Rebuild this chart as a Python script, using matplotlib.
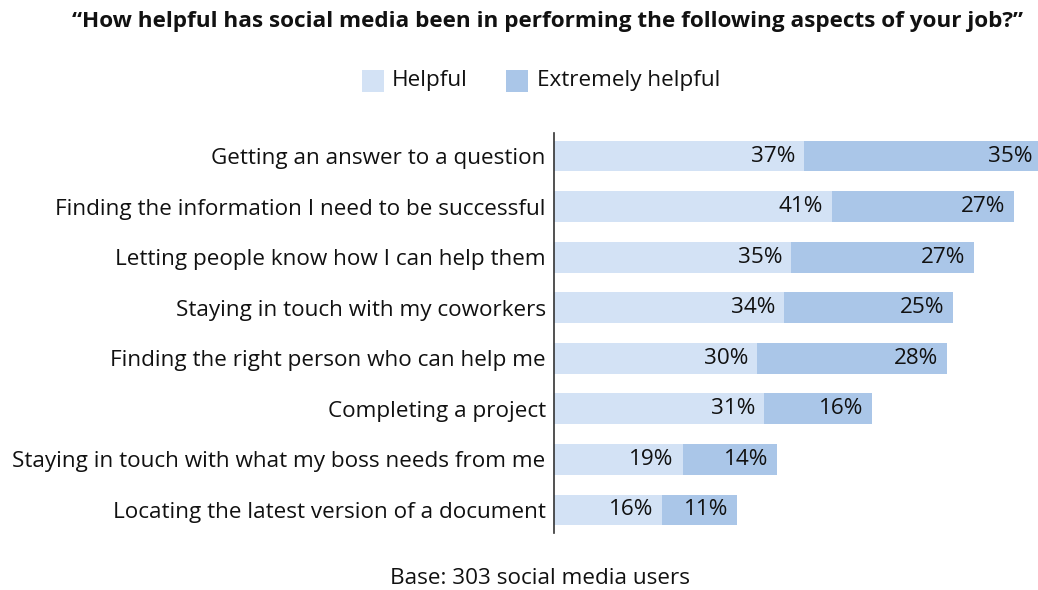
import numpy as np
import matplotlib.pyplot as plt

plt.rcParams['font.family'] = ['Open Sans', 'DejaVu Sans']

categories = [
    "Getting an answer to a question",
    "Finding the information I need to be successful",
    "Letting people know how I can help them",
    "Staying in touch with my coworkers",
    "Finding the right person who can help me",
    "Completing a project",
    "Staying in touch with what my boss needs from me",
    "Locating the latest version of a document",
]
helpful = [37, 41, 35, 34, 30, 31, 19, 16]
extremely = [35, 27, 27, 25, 28, 16, 14, 11]

c_light = '#d3e2f5'
c_dark = '#aac6e8'
fs = 16.2

W, H = 1038, 590
fig = plt.figure(figsize=(W / 100, H / 100), dpi=100)
# axes spans from the vertical baseline to the right edge
ax = fig.add_axes([554 / W, 1 - 533 / H, (W - 554) / W, 400 / H])

y = np.arange(len(categories))
h = np.array(helpful)
e = np.array(extremely)
ax.barh(y, h, height=0.61, color=c_light, linewidth=0)
ax.barh(y, e, left=h, height=0.61, color=c_dark, linewidth=0)

for i in range(len(y)):
    ax.text(h[i] - 1.3, y[i], f"{h[i]}%", ha='right', va='center',
            fontsize=fs, color='#111111')
    ax.text(h[i] + e[i] - 1.3, y[i], f"{e[i]}%", ha='right', va='center',
            fontsize=fs, color='#111111')

ax.set_xlim(0, (W - 554) / 6.77)
ax.set_ylim(len(categories) - 0.545, -0.455)
ax.set_yticks(y)
ax.set_yticklabels(categories, fontsize=fs, color='#111111')
ax.tick_params(axis='y', length=0, pad=6)
ax.set_xticks([])
for s in ['top', 'right', 'bottom']:
    ax.spines[s].set_visible(False)
ax.spines['left'].set_color('#333333')
ax.spines['left'].set_linewidth(1.2)

fig.text(548 / W, 1 - 21 / H,
         "\u201cHow helpful has social media been in performing the following aspects of your job?\u201d",
         ha='center', va='center', fontsize=16.2, fontweight='bold', color='#111111')

# legend squares and labels
fig.patches.append(plt.Rectangle((362 / W, 1 - 92 / H), 22 / W, 22 / H,
                                 transform=fig.transFigure, color=c_light, lw=0))
fig.text(392 / W, 1 - 81 / H, "Helpful", ha='left', va='center',
         fontsize=fs, color='#111111')
fig.patches.append(plt.Rectangle((506 / W, 1 - 92 / H), 22 / W, 22 / H,
                                 transform=fig.transFigure, color=c_dark, lw=0))
fig.text(537 / W, 1 - 81 / H, "Extremely helpful", ha='left', va='center',
         fontsize=fs, color='#111111')

fig.text(540 / W, 1 - 578 / H, "Base: 303 social media users", ha='center',
         va='center', fontsize=fs, color='#111111')

fig.savefig('out.png', dpi=100)
